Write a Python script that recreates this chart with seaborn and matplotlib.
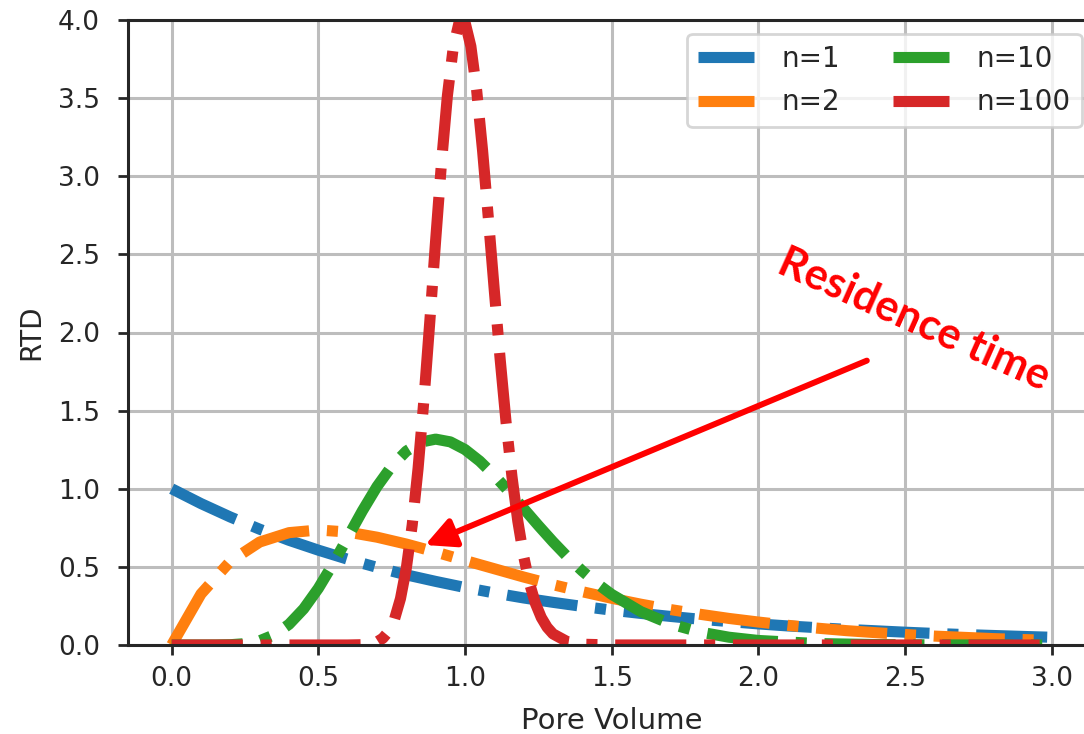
import matplotlib
matplotlib.use("Agg")
import matplotlib.pyplot as plt
import seaborn as sns

# ---- data ----
x_n1 = [0.0, 0.1, 0.2, 0.3, 0.4, 0.5, 0.6, 0.7, 0.8, 0.9, 1.0, 1.1, 1.2, 1.3, 1.4, 1.5,
        1.6, 1.7, 1.8, 1.9, 2.0, 2.1, 2.2, 2.3, 2.4, 2.5, 2.6, 2.7, 2.8, 2.9, 2.99]
y_n1 = [1.000, 0.905, 0.819, 0.741, 0.670, 0.607, 0.549, 0.497, 0.449, 0.407, 0.368,
        0.333, 0.301, 0.273, 0.247, 0.223, 0.202, 0.183, 0.165, 0.150, 0.135, 0.122,
        0.111, 0.100, 0.091, 0.082, 0.074, 0.067, 0.061, 0.055, 0.050]

x_n2 = x_n1
y_n2 = [0.000, 0.327, 0.536, 0.659, 0.719, 0.736, 0.723, 0.690, 0.646, 0.595, 0.541,
        0.488, 0.435, 0.386, 0.341, 0.299, 0.261, 0.227, 0.197, 0.170, 0.147, 0.126,
        0.108, 0.092, 0.079, 0.067, 0.057, 0.049, 0.041, 0.035, 0.030]

x_n10 = [0.0, 0.1, 0.15, 0.2, 0.25, 0.3, 0.35, 0.4, 0.45, 0.5, 0.55, 0.6, 0.65, 0.7, 0.75,
         0.8, 0.85, 0.9, 0.95, 1.0, 1.05, 1.1, 1.15, 1.2, 1.25, 1.3, 1.35, 1.4, 1.45, 1.5,
         1.6, 1.7, 1.8, 1.9, 2.0, 2.2, 2.4, 2.6, 2.8, 2.99]
y_n10 = [0.0, 0.0000, 0.0002, 0.0019, 0.0086, 0.0270, 0.0656, 0.1323, 0.2316, 0.3627,
         0.5187, 0.6884, 0.8581, 1.0140, 1.1444, 1.2408, 1.2987, 1.3176, 1.3000, 1.2511,
         1.1772, 1.0853, 0.9820, 0.8736, 0.7651, 0.6605, 0.5627, 0.4734, 0.3938, 0.3241,
         0.2131, 0.1353, 0.0833, 0.0498, 0.0291, 0.0093, 0.0028, 0.0008, 0.0002, 0.0000]

x_n100 = [0.0, 0.6, 0.65, 0.7, 0.72, 0.74, 0.76, 0.78, 0.8, 0.82, 0.84, 0.86, 0.88, 0.9,
          0.92, 0.94, 0.96, 0.98, 0.99, 1.0, 1.02, 1.04, 1.06, 1.08, 1.1, 1.12, 1.14, 1.16,
          1.18, 1.2, 1.22, 1.24, 1.26, 1.28, 1.3, 1.35, 1.4, 1.5, 2.99]
y_n100 = [0.0, 0.0001, 0.0019, 0.0197, 0.0433, 0.0883, 0.1675, 0.2968, 0.4925, 0.7681,
          1.1296, 1.5705, 2.0697, 2.5915, 3.0897, 3.5155, 3.8247, 3.9856, 4.0063, 3.9865,
          3.8316, 3.5455, 3.1629, 2.7237, 2.2671, 1.8264, 1.4256, 1.0794, 0.7936, 0.5671,
          0.3942, 0.2669, 0.1760, 0.1133, 0.0711, 0.0201, 0.0050, 0.0002, 0.0]

series_labels = ["n=1", "n=2", "n=10", "n=100"]
series_colors = ["#1f77b4", "#ff7f0e", "#2ca02c", "#d62728"]
x_ticks = [0.0, 0.5, 1.0, 1.5, 2.0, 2.5, 3.0]
y_ticks = [0.0, 0.5, 1.0, 1.5, 2.0, 2.5, 3.0, 3.5, 4.0]
x_label = "Pore Volume"
y_label = "RTD"
note_text = "Residence time"

# ---- style ----
sns.set_style("whitegrid", rc={
    "grid.color": "#bdbdbd",
    "axes.edgecolor": "#262626",
})
plt.rcParams["font.family"] = ["DejaVu Sans"]

fig = plt.figure(figsize=(10.84, 7.34), dpi=100)
ax = fig.add_axes([127.7 / 1084, 89 / 734, 967.9 / 1084, 625 / 734])

xs = [x_n1, x_n2, x_n10, x_n100]
ys = [y_n1, y_n2, y_n10, y_n100]
for xv, yv, lab, col in zip(xs, ys, series_labels, series_colors):
    sns.lineplot(x=xv, y=yv, ax=ax, color=col, linestyle="-.", linewidth=8,
                 label=lab, sort=False)

ax.grid(True, color="#bdbdbd", linewidth=2.2)
ax.set_axisbelow(True)
ax.set_xlim(-0.15, 3.15)
ax.set_ylim(0, 4.0)
ax.set_xticks(x_ticks)
ax.set_yticks(y_ticks)
ax.set_xticklabels([f"{v:.1f}" for v in x_ticks])
ax.set_yticklabels([f"{v:.1f}" for v in y_ticks])
ax.tick_params(axis="both", which="major", bottom=True, left=True, length=7,
               width=2, color="#262626", labelsize=19, labelcolor="#262626")
ax.tick_params(axis="x", pad=8)
ax.tick_params(axis="y", pad=13)
ax.set_xlabel(x_label, fontsize=21, color="#262626", labelpad=11)
ax.set_ylabel(y_label, fontsize=20, color="#262626", labelpad=9)
for s in ["left", "bottom", "top", "right"]:
    ax.spines[s].set_visible(True)
    ax.spines[s].set_color("#262626")
    ax.spines[s].set_linewidth(2.2)

leg = ax.legend(loc="upper right", ncol=2, fontsize=20, frameon=True,
                fancybox=True, framealpha=0.8, edgecolor="#cccccc",
                handlelength=2.0, handletextpad=1.0, columnspacing=1.9,
                labelspacing=0.55)
leg.get_frame().set_linewidth(2.0)

ax.annotate("", xy=(0.864, 0.64), xytext=(2.37, 1.82),
            arrowprops=dict(arrowstyle="-|>,head_length=0.5,head_width=0.25",
                            color="red", lw=4.3, mutation_scale=36,
                            shrinkA=0, shrinkB=0))
ax.text(2.53, 2.08, note_text, color="red", fontsize=31, fontweight="bold",
        family=["Lato", "DejaVu Sans"], rotation=-24, rotation_mode="anchor",
        ha="center", va="center")

fig.savefig("out.png", dpi=100)
